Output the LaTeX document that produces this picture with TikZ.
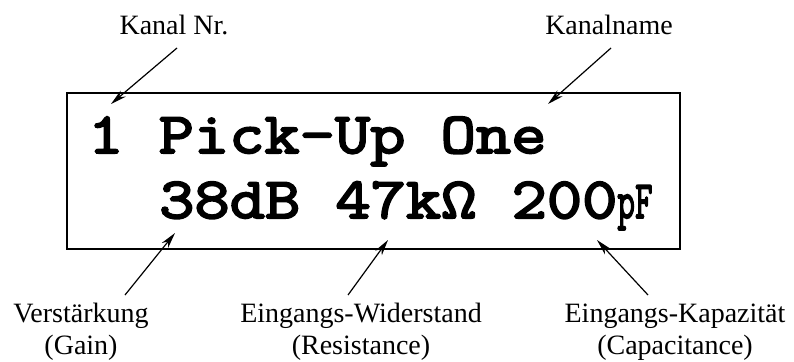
\documentclass[tikz,border=0pt]{standalone}
\usepackage{fontspec}
\usepackage{graphicx}
\setmainfont{Liberation Serif}
\newfontfamily\lcdfont{Latin Modern Mono}[FakeBold=3.5, FakeStretch=1.18]
\usetikzlibrary{arrows.meta}
\tikzset{
  lbl/.style={inner sep=0pt, align=center, font=\fontsize{28}{32}\selectfont},
  lcd/.style={inner sep=0pt, anchor=base west, font=\lcdfont\fontsize{58}{60}\selectfont},
  ptr/.style={line width=1.2pt, -{Stealth[length=16pt,width=8pt,inset=5pt]}},
  frame/.style={draw, line width=1.4pt}
}
\begin{document}
\begin{tikzpicture}[x=1pt,y=-1pt]
\useasboundingbox (0,0) rectangle (794,361);
\draw[frame] (67,93) rectangle (680,249);
\node[lcd] (l1) at (88,153) {1 Pick-Up One};
\node[lcd] (l2) at (159,218) {38dB 47kΩ 200\scalebox{0.5}[0.92]{pF}};
\node[lbl, anchor=base] (kn) at (174,35) {Kanal Nr.};
\node[lbl, anchor=base] (kname) at (609,35) {Kanalname};
\node[lbl, anchor=base] (gain) at (81,354) {Verstärkung\\(Gain)};
\node[lbl, anchor=base] (res) at (361,354) {Eingangs-Widerstand\\(Resistance)};
\node[lbl, anchor=base] (cap) at (675,354) {Eingangs-Kapazität\\(Capacitance)};
\coordinate (s1) at (177,48); \coordinate (e1) at (111,104);
\coordinate (s2) at (611,48); \coordinate (e2) at (548,104);
\coordinate (s3) at (125,295); \coordinate (e3) at (175,233);
\coordinate (s4) at (348,295); \coordinate (e4) at (388,240);
\coordinate (s5) at (648,295); \coordinate (e5) at (597,240);
\draw[ptr] (s1) -- (e1);
\draw[ptr] (s2) -- (e2);
\draw[ptr] (s3) -- (e3);
\draw[ptr] (s4) -- (e4);
\draw[ptr] (s5) -- (e5);
\end{tikzpicture}
\end{document}
